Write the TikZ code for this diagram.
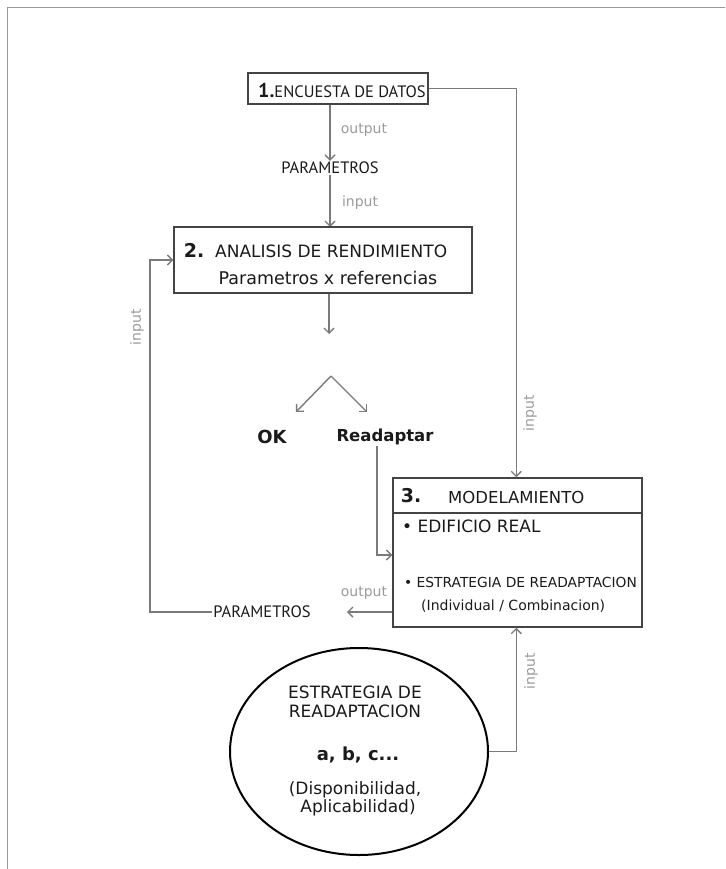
\documentclass[tikz,border=0pt]{standalone}
\usepackage{fontspec}
\setmainfont{DejaVu Sans}
\newfontfamily\cnd{PT Sans}
\usetikzlibrary{arrows.meta,calc,shapes.geometric}
\definecolor{linegray}{HTML}{7A7A7A}
\definecolor{boxgray}{HTML}{444444}
\definecolor{lblgray}{HTML}{9A9A9A}
\definecolor{txt}{HTML}{1A1A1A}
\definecolor{framegray}{HTML}{999999}
\tikzset{
  arr/.style={draw=linegray, line width=1.4pt, -{Straight Barb[length=5pt,width=10pt]}},
  boxnode/.style={draw=boxgray, line width=1.5pt, rectangle, inner sep=0pt},
  fsize/.style={font=\fontsize{#1}{#1}\selectfont},
  txtnode/.style={text=txt, inner sep=1pt},
  glabel/.style={text=lblgray, inner sep=1pt, font=\fontsize{14}{14}\selectfont},
}
\begin{document}
\begin{tikzpicture}[x=1pt,y=-1pt]
\useasboundingbox (0,0) rectangle (725,869);
\draw[framegray, line width=1pt] (7.5,869) -- (7.5,7.5) -- (725,7.5);

% Box 1
\node[boxnode, minimum width=180pt, minimum height=31pt] (b1) at (338,88.5) {};
\node[txtnode, anchor=west] (t1) at (257,90) {\cnd{\fontsize{20}{20}\selectfont\bfseries 1.}{\fontsize{16.5}{16.5}\selectfont ENCUESTA DE DATOS}};

% Parametros 1
\node[txtnode, fsize=16.5] (p1) at (330,168) {\cnd PARAMETROS};
\draw[arr] (b1.south -| p1.north) -- (p1.north);
\node[glabel] (lo1) at (364,130) {output};
\draw[arr] (p1.south) -- (p1.south |- 0,227);
\node[glabel] (li1) at (360,203) {input};

% Box 2
\node[boxnode, minimum width=298pt, minimum height=66pt] (b2) at (323,260) {};
\node[txtnode, font=\fontsize{19}{19}\selectfont\bfseries] (n2) at (194,250) {2.};
\node[txtnode, fsize=17, anchor=west] (t2a) at (214,251) {ANALISIS DE RENDIMIENTO};
\node[txtnode, fsize=17.5] (t2b) at (328,278) {Parametros x referencias};

% Down arrow and split
\coordinate (c1) at (329,334);
\draw[arr] (b2.south -| c1) -- (c1);
\coordinate (apex) at (331,376);
\coordinate (tl) at (296,412);
\coordinate (tr) at (367,412);
\draw[arr] (apex) -- (tl);
\draw[arr] (apex) -- (tr);
\node[txtnode, font=\fontsize{18}{18}\selectfont\bfseries] (ok) at (272,437) {OK};
\node[txtnode, font=\fontsize{16.5}{16.5}\selectfont\bfseries] (ra) at (385,437) {Readaptar};

% Box 3
\node[boxnode, minimum width=249pt, minimum height=149pt] (b3) at (517.5,552.5) {};
\coordinate (hl) at (0,513);
\draw[draw=boxgray, line width=1.5pt] (b3.west |- hl) -- (b3.east |- hl);
\node[txtnode, font=\fontsize{19}{19}\selectfont\bfseries] (n3) at (411,496) {3.};
\node[txtnode, fsize=16.5, anchor=west] (t3) at (447,497) {MODELAMIENTO};
\node[txtnode, fsize=17, anchor=west] (t3a) at (401,526) {\textbullet\ EDIFICIO REAL};
\node[txtnode, fsize=13.8, anchor=west] (t3b) at (403,582) {\textbullet\ ESTRATEGIA DE READAPTACION};
\node[txtnode, fsize=14, anchor=west] (t3c) at (420,606) {(Individual / Combinacion)};

% Readaptar -> box3
\coordinate (rc) at (377,555);
\draw[arr] (ra.south -| rc) -- (rc) -- (rc -| b3.west);

% box1 -> box3
\draw[arr] (b1.east) -| ($(b3.north west)+(124,0)$);
\node[glabel, rotate=90] (li2) at (530,413) {input};

% output from box 3
\coordinate (oa) at (347,612);
\draw[arr] (b3.west |- oa) -- (oa);
\node[glabel] (lo2) at (364,593) {output};
\node[txtnode, fsize=16.5] (p2) at (262,612) {\cnd PARAMETROS};
\coordinate (lc) at (150,612);
\draw[arr] (p2.west) -- (lc) |- (b2.west);
\node[glabel, rotate=90] (li3) at (137,327) {input};

% Ellipse
\node[draw=black, line width=2pt, ellipse, minimum width=258pt, minimum height=207pt, inner sep=0pt] (el) at (359,751.5) {};
\node[txtnode, fsize=17] (e1) at (355,692) {ESTRATEGIA DE};
\node[txtnode, fsize=17] (e2) at (355,711) {READAPTACION};
\node[txtnode, font=\fontsize{18}{18}\selectfont\bfseries] (e3) at (358,755) {a, b, c...};
\node[txtnode, fsize=17] (e4) at (355,790) {(Disponibilidad,};
\node[txtnode, fsize=17] (e5) at (358,808) {Aplicabilidad)};
\draw[arr] (el.east) -| ($(b3.south west)+(124,0)$);
\node[glabel, rotate=90] (li4) at (531,671) {input};
\end{tikzpicture}
\end{document}
